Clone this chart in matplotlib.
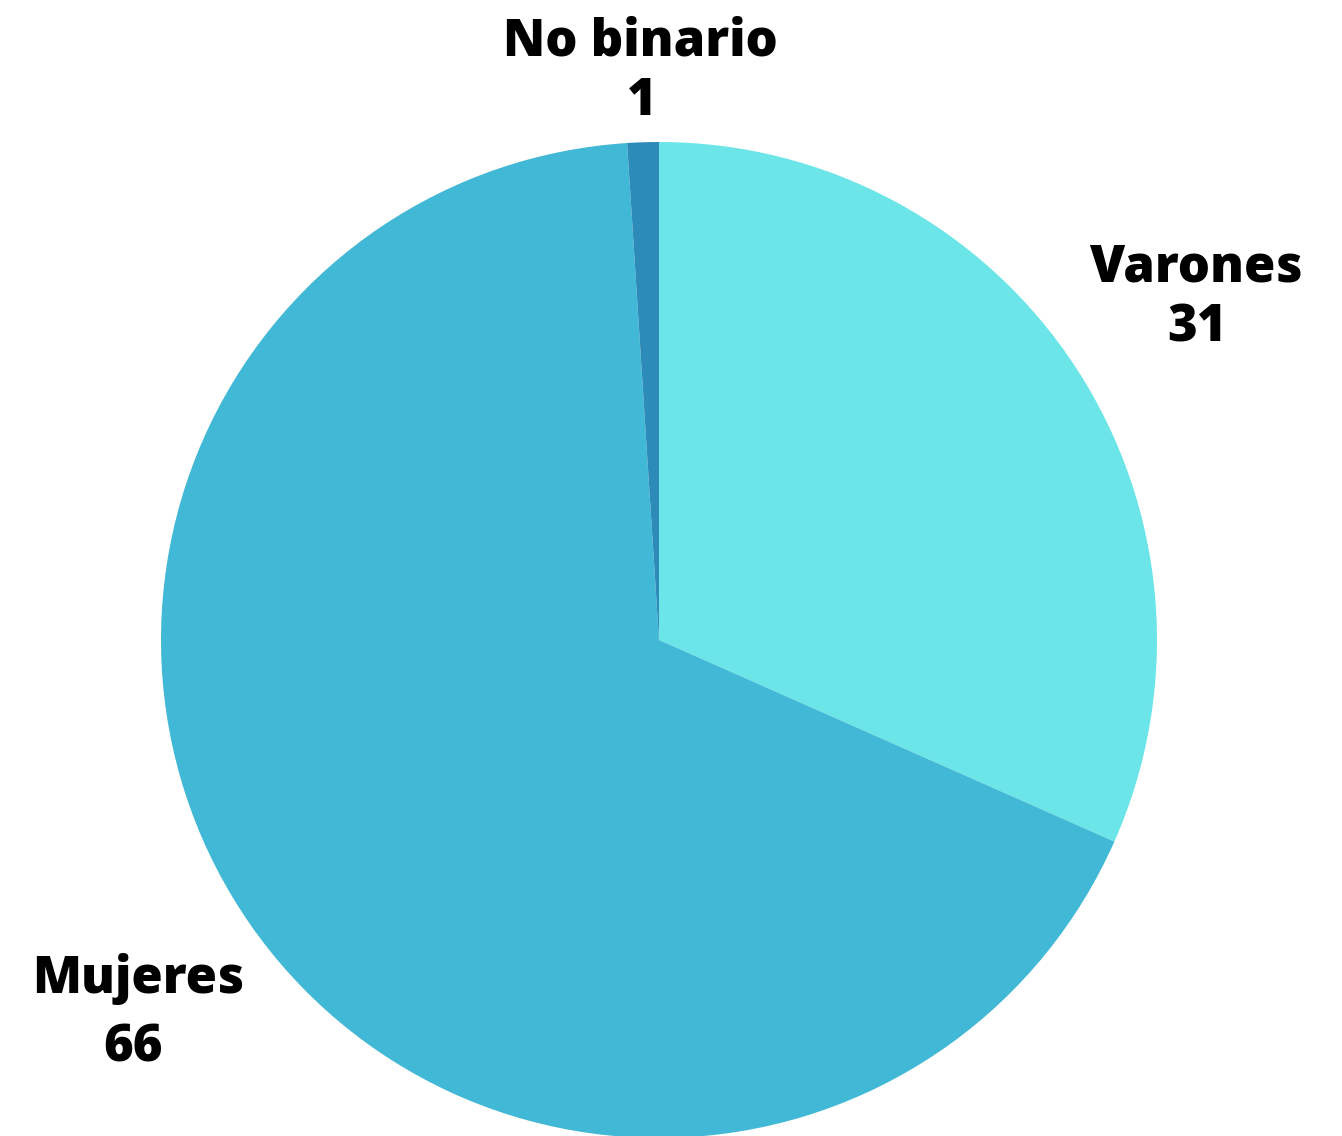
import matplotlib.pyplot as plt

labels = ['Varones', 'Mujeres', 'No binario']
values = [31, 66, 1]
colors = ['#6CE5E8', '#41B8D5', '#2D8BBA']

# label anchor positions (pixels in the 1342x1136 image: name x, value x, baseline of name, baseline of value)
label_px = {'Varones': (1196, 1197, 281, 341),
            'Mujeres': (138, 133, 993, 1062),
            'No binario': (640, 642, 55, 115)}

cx, cy, r = 659, 640, 498
W, H = 1342, 1136

fig = plt.figure(figsize=(W / 100, H / 100), dpi=100)
ax = fig.add_axes([(cx - r) / W, (H - cy - r) / H, 2 * r / W, 2 * r / H])
ax.pie(values, colors=colors, startangle=90, counterclock=False,
       wedgeprops={'linewidth': 0}, radius=1)
ax.set_xlim(-1, 1)
ax.set_ylim(-1, 1)
ax.set_aspect('equal')
ax.axis('off')

font = dict(family=['Open Sans', 'DejaVu Sans'], fontweight='heavy',
            fontsize=36.5, ha='center', va='baseline', color='black')
for name, v in zip(labels, values):
    x1, x2, b1, b2 = label_px[name]
    ax.text((x1 - cx) / r, (cy - b1) / r, name, clip_on=False, **font)
    ax.text((x2 - cx) / r, (cy - b2) / r, str(v), clip_on=False, **font)

fig.savefig('out.png', dpi=100)
